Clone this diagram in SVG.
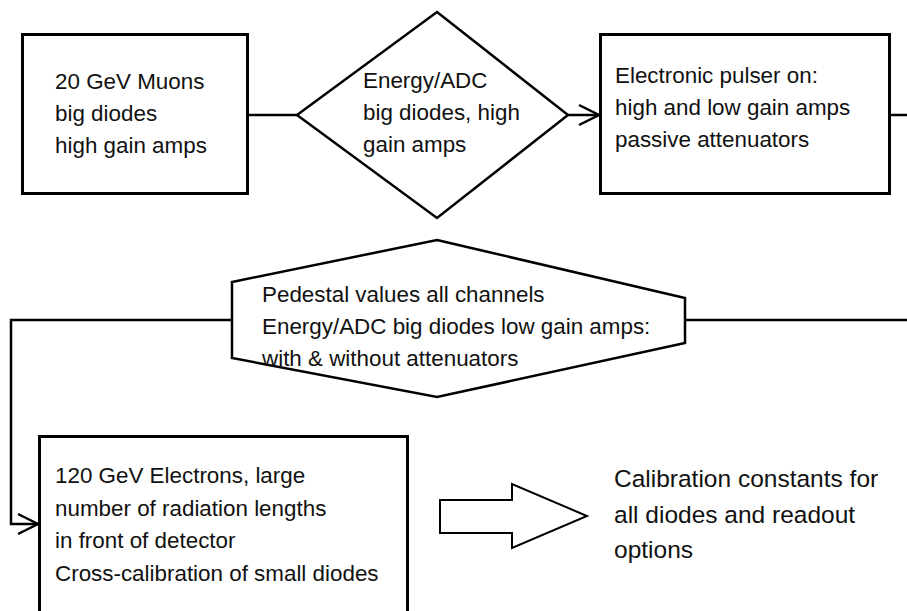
<svg xmlns="http://www.w3.org/2000/svg" width="907" height="611" viewBox="0 0 907 611">
<style>
.box{fill:#fff;stroke:#000;stroke-width:3}
.shp{fill:#fff;stroke:#000;stroke-width:2.5;stroke-linejoin:miter}
.ln{fill:none;stroke:#000;stroke-width:2.5}
.t{font-family:"Liberation Sans",Arial,sans-serif;font-size:22.4px;fill:#111}
.tb{font-family:"Liberation Sans",Arial,sans-serif;font-size:24.5px;fill:#111}
</style>
<defs>
<marker id="open" markerUnits="userSpaceOnUse" markerWidth="24" markerHeight="24" refX="21" refY="11" orient="auto" viewBox="0 0 24 22">
<path d="M1,1 L21,11 L1,21" fill="none" stroke="#000" stroke-width="2.5"/>
</marker>
</defs>
<rect width="907" height="611" fill="#fff"/>
<g id="connectors">
<line class="ln" x1="248" y1="115" x2="297" y2="115"/>
<line class="ln" x1="568" y1="115" x2="599" y2="115" marker-end="url(#open)"/>
<line class="ln" x1="890" y1="115" x2="907" y2="115"/>
<line class="ln" x1="907" y1="320" x2="685" y2="320"/>
<polyline class="ln" points="232,320 11,320 11,524 38,524" marker-end="url(#open)"/>
</g>
<g id="n1">
<rect class="box" x="22.5" y="34.5" width="225" height="159"/>
<text class="t" x="55" y="89">20 GeV Muons</text>
<text class="t" x="55" y="121">big diodes</text>
<text class="t" x="55" y="153">high gain amps</text>
</g>
<g id="n2">
<polygon class="shp" points="437,12 568,115 437,218 297,115"/>
<text class="t" x="363" y="88">Energy/ADC</text>
<text class="t" x="363" y="120">big diodes, high</text>
<text class="t" x="363" y="152">gain amps</text>
</g>
<g id="n3">
<rect class="box" x="600.5" y="34.5" width="289" height="159"/>
<text class="t" x="615" y="83">Electronic pulser on:</text>
<text class="t" x="615" y="115">high and low gain amps</text>
<text class="t" x="615" y="147">passive attenuators</text>
</g>
<g id="n4">
<polygon class="shp" points="437,240 685,298 685,343 437,397 232,358 232,282"/>
<text class="t" x="262" y="302">Pedestal values all channels</text>
<text class="t" x="262" y="334">Energy/ADC big diodes low gain amps:</text>
<text class="t" x="262" y="366">with &amp; without attenuators</text>
</g>
<g id="n5">
<rect class="box" x="39.5" y="436.5" width="368" height="200"/>
<text class="t" x="55" y="483">120 GeV Electrons, large</text>
<text class="t" x="55" y="516">number of radiation lengths</text>
<text class="t" x="55" y="548">in front of detector</text>
<text class="t" x="55" y="581">Cross-calibration of small diodes</text>
</g>
<g id="n6">
<polygon class="shp" style="stroke-width:2" points="440,500 512,500 512,484 587,516 512,548 512,533 440,533"/>
</g>
<g id="n7">
<text class="tb" x="614" y="487">Calibration constants for</text>
<text class="tb" x="614" y="523">all diodes and readout</text>
<text class="tb" x="614" y="558">options</text>
</g>
</svg>
